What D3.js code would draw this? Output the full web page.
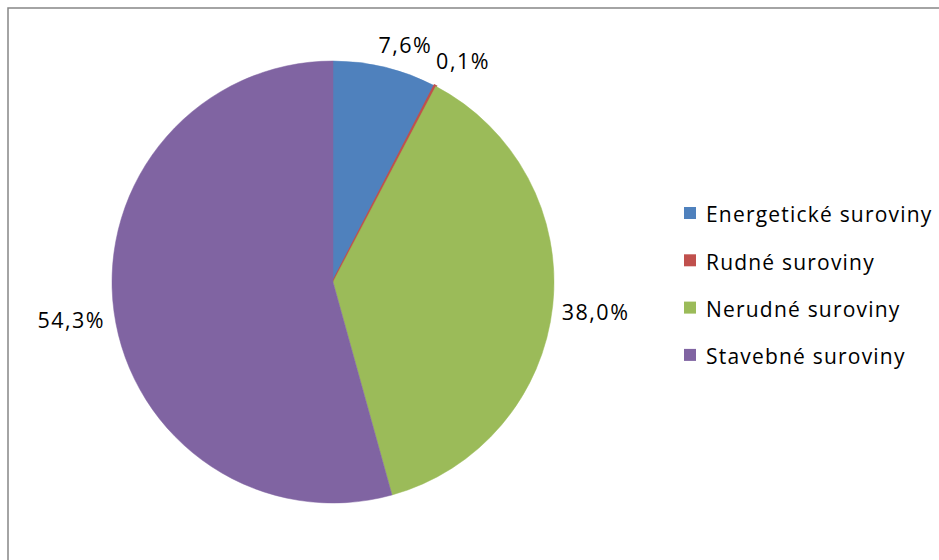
<!DOCTYPE html>
<html>
<head>
<meta charset="utf-8">
<script src="https://cdn.jsdelivr.net/npm/d3@7"></script>
<style>
  html, body { margin: 0; padding: 0; background: #fff; }
  svg { display: block; }
  text { font-family: "Open Sans", Lato, sans-serif; fill: #000; }
</style>
</head>
<body>
<svg id="chart" width="939" height="560"></svg>
<script>
const categories = ["Energetické suroviny", "Rudné suroviny", "Nerudné suroviny", "Stavebné suroviny"];
const shares = [7.6, 0.1, 38.0, 54.3];
const colors = ["#4F81BD", "#C0504D", "#9BBB59", "#8064A2"];
const labelText = ["7,6%", "0,1%", "38,0%", "54,3%"];

const svg = d3.select("#chart");
const W = 939, H = 560;

// chart frame
svg.append("rect")
  .attr("x", 8).attr("y", 8)
  .attr("width", W).attr("height", H)
  .attr("fill", "#fff")
  .attr("stroke", "#868686").attr("stroke-width", 1.5);

const cx = 333, cy = 282, r = 221;
const color = d3.scaleOrdinal().domain(categories).range(colors);

const pie = d3.pie().sort(null).value(d => d.v);
const arcs = pie(categories.map((c, i) => ({ c, v: shares[i], t: labelText[i] })));
const arc = d3.arc().innerRadius(0).outerRadius(r);

const g = svg.append("g").attr("transform", `translate(${cx},${cy})`);
g.selectAll("path")
  .data(arcs)
  .join("path")
  .attr("d", arc)
  .attr("fill", d => color(d.data.c))
  .attr("stroke", d => color(d.data.c))
  .attr("stroke-width", d => d.data.v < 1 ? 2.5 : 0.5);

// outside value labels
const labelArc = d3.arc().innerRadius(r + 30).outerRadius(r + 30);
const nudges = [[13, 7], [14, 2], [13, 4], [-13, 5]];
g.selectAll("text.val")
  .data(arcs)
  .join("text")
  .attr("class", "val")
  .attr("text-anchor", "middle")
  .attr("font-size", 21.5)
  .attr("letter-spacing", 1.5)
  .attr("transform", (d, i) => {
    const p = labelArc.centroid(d);
    return `translate(${p[0] + nudges[i][0]},${p[1] + nudges[i][1]})`;
  })
  .attr("dy", "0.35em")
  .text(d => d.data.t);

// legend
const legend = svg.append("g").attr("transform", "translate(684,213)");
const rows = legend.selectAll("g")
  .data(categories)
  .join("g")
  .attr("transform", (d, i) => `translate(0,${i * 47.3})`);
rows.append("rect")
  .attr("x", 0).attr("y", -6)
  .attr("width", 12).attr("height", 12)
  .attr("fill", d => color(d));
rows.append("text")
  .attr("x", 22).attr("y", 2)
  .attr("dy", "0.35em")
  .attr("font-size", 21)
  .attr("letter-spacing", 1.2)
  .text(d => d);
</script>
</body>
</html>
